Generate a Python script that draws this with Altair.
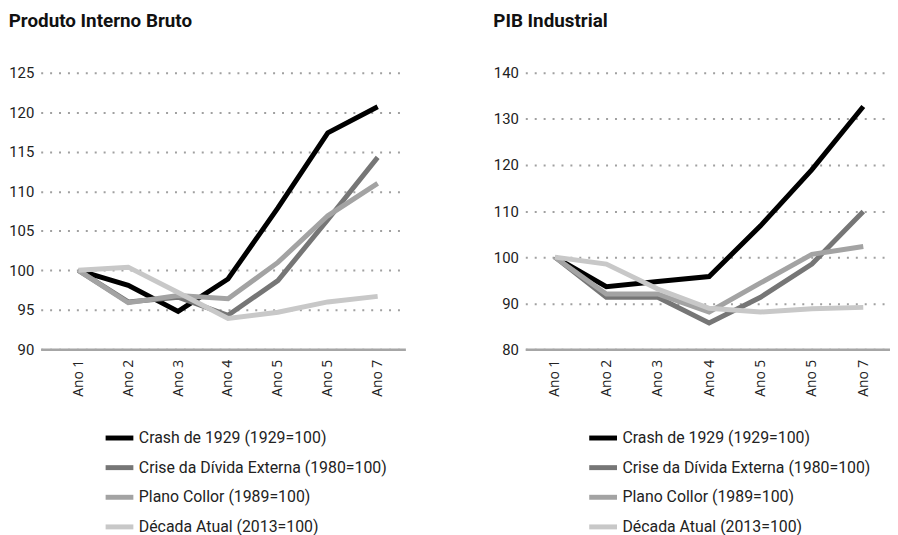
import json
import altair as alt
import pandas as pd

x_labels = ["Ano 1", "Ano 2", "Ano 3", "Ano 4", "Ano 5", "Ano 5", "Ano 7"]
series = [
    "Crash de 1929 (1929=100)",
    "Crise da Dívida Externa (1980=100)",
    "Plano Collor (1989=100)",
    "Década Atual (2013=100)",
]
colors = ["#000000", "#767676", "#a3a3a3", "#c8c8c8"]

# Produto Interno Bruto
pib_crash = [100, 98.1, 94.8, 98.9, 107.9, 117.4, 120.7]
pib_crise = [100, 96.0, 96.6, 94.3, 98.7, 106.4, 114.3]
pib_collor = [100, 95.9, 96.8, 96.4, 101.0, 106.9, 111.0]
pib_decada = [100, 100.4, 97.2, 93.9, 94.7, 96.0, 96.7]

# PIB Industrial
ind_crash = [100, 93.6, 94.7, 95.8, 106.8, 119.0, 132.7]
ind_crise = [100, 91.3, 91.3, 85.7, 91.3, 98.5, 109.9]
ind_collor = [100, 92.0, 92.0, 88.1, 94.4, 100.6, 102.3]
ind_decada = [100, 98.5, 93.1, 88.9, 88.1, 88.8, 89.1]


def build(values_list):
    rows = []
    for name, vals in zip(series, values_list):
        for i, v in enumerate(vals):
            rows.append({"idx": i + 1, "serie": name, "valor": v})
    return pd.DataFrame(rows)


label_expr = json.dumps(x_labels) + "[datum.value - 1]"
FONT = "Roboto"


def panel(df, title, ydom, yvals, xdom, legend_x):
    return (
        alt.Chart(df, title=alt.TitleParams(
            title, anchor="start", frame="bounds", fontSize=19,
            fontWeight="bold", font=FONT, color="#111111", offset=35))
        .mark_line(strokeWidth=5, strokeJoin="miter", strokeCap="butt")
        .encode(
            x=alt.X("idx:Q",
                    scale=alt.Scale(domain=xdom, nice=False, zero=False),
                    axis=alt.Axis(values=list(range(1, 8)), labelExpr=label_expr,
                                  labelAngle=-90, grid=False, ticks=False,
                                  domainColor="#a6a6a6", domainWidth=2.5,
                                  labelFontSize=14, labelPadding=10,
                                  labelColor="#222222", labelFont="Open Sans",
                                  title=None)),
            y=alt.Y("valor:Q",
                    scale=alt.Scale(domain=ydom, nice=False, zero=False),
                    axis=alt.Axis(values=yvals, grid=True, gridDash=[2, 7],
                                  gridColor="#a0a0a0", gridWidth=2,
                                  domain=False, ticks=False, labelFontSize=15,
                                  labelPadding=7, labelColor="#222222",
                                  labelFont=FONT, title=None)),
            color=alt.Color("serie:N",
                            scale=alt.Scale(domain=series, range=colors),
                            sort=series,
                            legend=alt.Legend(title=None, orient="none",
                                              legendX=legend_x, legendY=352,
                                              symbolType="stroke",
                                              symbolStrokeWidth=5,
                                              symbolSize=784,
                                              labelFontSize=16,
                                              labelFont=FONT,
                                              labelColor="#222222",
                                              labelOffset=3,
                                              labelLimit=400,
                                              rowPadding=2.9)),
        )
        .properties(width=368, height=279)
    )


df_pib = build([pib_crash, pib_crise, pib_collor, pib_decada])
df_ind = build([ind_crash, ind_crise, ind_collor, ind_decada])

left = panel(df_pib, "Produto Interno Bruto", [90, 125],
             [90, 95, 100, 105, 110, 115, 120, 125], [0.245, 7.556], 63)
right = panel(df_ind, "PIB Industrial", [80, 140],
              [80, 90, 100, 110, 120, 130, 140], [0.423, 7.52], 62)

chart = (
    alt.hconcat(left, right, spacing=88)
    .resolve_scale(color="independent")
    .properties(padding={"top": 2, "left": 0, "right": 0, "bottom": 0})
    .configure_view(stroke=None)
)

chart.save("out.html", embed_options={"renderer": "svg", "actions": False})
